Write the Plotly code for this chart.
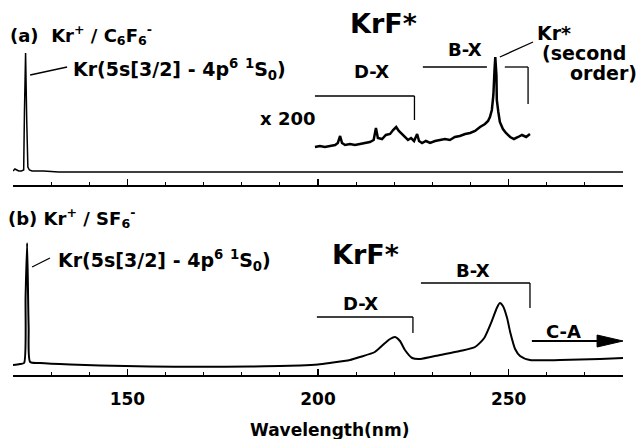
import plotly.graph_objects as go

# ---------------- data ----------------
# (a) Kr+ / C6F6- : main trace
wl_a = [120.0, 120.5, 121.0, 121.5, 122.2, 122.8, 123.0, 123.3, 123.6, 123.9, 124.3, 125.0,
        128.0, 132.0, 140.0, 160.0, 200.0, 240.0, 280.0]
int_a = [1, 3, 2, 1, 1, 2, 60, 119, 52, 5, 2, 1, 1, 0, 0, 0, 0, 0, 0]

# (a) x200 magnified section (offset trace)
wl_a200 = [199.2, 200.5, 201.8, 203.1, 204.5, 205.2, 205.8, 206.3, 207.1, 208.4, 209.7, 211.0,
           212.3, 213.6, 214.6, 215.2, 215.7, 216.8, 217.8, 218.9, 219.7, 220.5, 221.2, 222.0,
           222.8, 223.6, 224.4, 225.2, 226.0, 226.5, 227.3, 228.3, 229.4, 230.7, 232.0, 233.3,
           234.6, 235.9, 237.2, 238.6, 239.9, 241.2, 242.5, 243.8, 244.6, 245.1, 245.6, 246.0,
           246.3, 246.5, 246.8, 246.9, 247.3, 247.7, 248.5, 249.3, 250.4, 251.4, 252.5, 253.5,
           254.6, 255.6]
int_a200 = [25, 26, 25, 26, 27, 29, 36, 29, 27, 28, 27, 28,
            29, 30, 32, 44, 34, 33, 37, 38, 42, 45, 41, 38,
            34, 32, 34, 31, 38, 31, 29, 31, 29, 31, 32, 33,
            32, 35, 36, 38, 39, 41, 45, 48, 51, 55, 62, 77,
            102, 115, 97, 72, 60, 50, 43, 39, 35, 33, 35, 37,
            35, 38]

# (b) Kr+ / SF6-
wl_b = [120.0, 121.8, 122.9, 123.3, 123.7, 124.1, 124.5, 127.1, 135.0, 142.8, 155.9, 169.0,
        182.2, 190.0, 195.3, 200.0, 203.1, 208.4, 211.0, 214.9, 217.6, 218.9, 220.2, 221.5,
        222.8, 224.7, 226.8, 232.0, 237.2, 241.2, 243.6, 245.6, 246.9, 247.7, 248.5, 249.6,
        250.4, 251.7, 253.0, 255.6, 263.5, 274.0, 280.0]
int_b = [2, 3, 4, 70, 124, 40, 5, 4, 2.5, 1.5, 0.5, 0.3,
         0.5, 1, 1.5, 2.5, 4, 7, 10, 15, 24, 28, 30, 26,
         17, 9, 8, 12, 16, 20, 29, 46, 59, 64, 61, 49,
         35, 18, 11, 7, 7, 8, 9]

tick_vals = [150, 200, 250]
tick_text = ["150", "200", "250"]
x_range = [120, 280]

# ---------------- figure ----------------
W, H = 641, 439
ML, MR, MT, MB = 13, 18, 0, 64
PW, PH = W - ML - MR, H - MT - MB

def P(px, py):
    return (px - ML) / PW, (H - MB - py) / PH

FONT = "DejaVu Sans, Liberation Sans, Arial, sans-serif"

fig = go.Figure()
fig.add_trace(go.Scatter(x=wl_a, y=int_a, mode="lines", line=dict(color="black", width=1.5),
                         xaxis="x", yaxis="y", showlegend=False))
fig.add_trace(go.Scatter(x=wl_a200, y=int_a200, mode="lines", line=dict(color="black", width=2.5),
                         xaxis="x", yaxis="y", showlegend=False))
fig.add_trace(go.Scatter(x=wl_b, y=int_b, mode="lines",
                         line=dict(color="black", width=2, shape="spline", smoothing=0.6),
                         xaxis="x2", yaxis="y2", showlegend=False))

axis_common = dict(range=x_range, showgrid=False, zeroline=False, showline=True,
                   linecolor="black", linewidth=1.5, ticks="inside", ticklen=6, tickwidth=1.2,
                   tickcolor="black", tickvals=tick_vals, ticktext=tick_text,
                   minor=dict(ticks="inside", ticklen=3, dtick=10, tick0=120, tickcolor="black", tickwidth=1),
                   fixedrange=True)

top_lo, top_hi = P(0, 185)[1], P(0, 20)[1]
bot_lo, bot_hi = 0.0, P(0, 235)[1]

fig.update_layout(
    width=W, height=H, margin=dict(l=ML, r=MR, t=MT, b=MB),
    paper_bgcolor="white", plot_bgcolor="white",
    font=dict(family=FONT, color="black"),
    xaxis=dict(axis_common, anchor="y", showticklabels=False),
    yaxis=dict(domain=[top_lo, top_hi], range=[-13, 152], visible=False, fixedrange=True),
    xaxis2=dict(axis_common, anchor="y2", showticklabels=True,
                tickfont=dict(size=17, family=FONT, weight="bold"), ticklabelstandoff=8),
    yaxis2=dict(domain=[bot_lo, bot_hi], range=[-8, 132], visible=False, fixedrange=True),
)

def seg(x0, y0, x1, y1, ax="", w=1.3):
    fig.add_shape(type="line", x0=x0, y0=y0, x1=x1, y1=y1, xref="x" + ax, yref="y" + ax,
                  line=dict(color="black", width=w))

# top brackets
seg(199.2, 76, 225.3, 76); seg(225.3, 76, 225.3, 52)
seg(227.5, 105, 244.3, 105); seg(249.0, 105, 255.1, 105); seg(255.1, 105, 255.1, 68)
seg(247.7, 115, 256.4, 130)          # Kr* leader
seg(124.5, 97, 134.2, 105)           # Kr line leader (a)
# bottom brackets
seg(199.7, 50, 224.9, 50, "2"); seg(224.9, 50, 224.9, 34, "2")
seg(227.0, 84, 255.6, 84, "2"); seg(255.6, 84, 255.6, 59, "2")
seg(125.0, 100, 129.7, 109, "2")     # Kr line leader (b)
seg(256.1, 26, 274.0, 26, "2", w=1.8)  # C-A arrow shaft
fig.add_shape(type="path", path="M 273.2,32 L 280,26 L 273.2,20 Z", xref="x2", yref="y2",
              fillcolor="black", line=dict(color="black", width=1))

def txt(s, px, py, size=18, xanchor="left"):
    x, y = P(px, py)
    fig.add_annotation(text=s, x=x, y=y, xref="paper", yref="paper", showarrow=False,
                       xanchor=xanchor, yanchor="middle",
                       font=dict(size=size, family=FONT, color="black", weight="bold"))

NB = "\u00a0"
kr_label = "Kr(5s[3/2] - 4p<sup>6</sup> <sup>1</sup>S<sub>0</sub>)"
txt("(a)" + NB + NB + "Kr<sup>+</sup> / C<sub>6</sub>F<sub>6</sub><sup>-</sup>", 8, 35)
txt(kr_label, 71, 70, size=19)
txt("x 200", 258, 118)
txt("KrF*", 348, 23, size=27)
txt("D-X", 352, 72)
txt("B-X", 446, 50)
txt("Kr*", 535, 33, size=19)
txt("(second", 540, 53, size=19)
txt("order)", 639, 73, size=19, xanchor="right")

txt("(b) Kr<sup>+</sup> / SF<sub>6</sub><sup>-</sup>", 6, 218)
txt(kr_label, 56, 260, size=19)
txt("KrF*", 330, 255, size=27)
txt("D-X", 341, 303)
txt("B-X", 454, 270)
txt("C-A", 544, 331)
txt("Wavelength(nm)", 329, 430, size=17, xanchor="center")

fig.write_html("out.html", config={"displayModeBar": False, "staticPlot": True},
               post_script="document.body.style.margin='0';document.body.style.overflow='hidden';")
